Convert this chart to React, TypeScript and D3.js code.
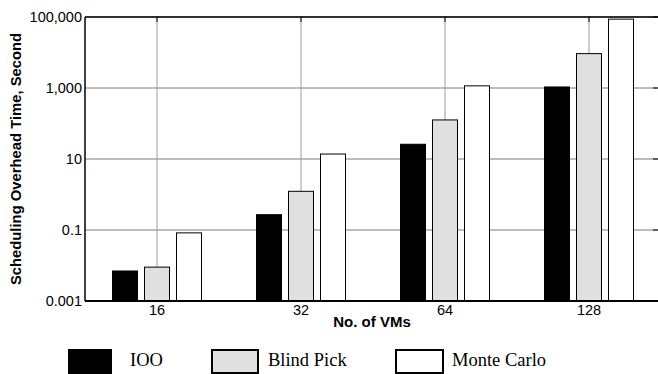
import React, { useEffect, useRef } from 'react';
import * as d3 from 'd3';

const categories = ['16', '32', '64', '128'];
const seriesNames = ['IOO', 'Blind Pick', 'Monte Carlo'];
const iooValues = [0.007, 0.27, 26, 1070];
const blindPickValues = [0.009, 1.23, 126, 9300];
const monteCarloValues = [0.083, 13.8, 1150, 87000];
const yTicks = [0.001, 0.1, 10, 1000, 100000];
const yTickLabels = ['0.001', '0.1', '10', '1,000', '100,000'];
const fills = ['#000000', '#e0e0e0', '#ffffff'];

const App = () => {
  const ref = useRef<SVGSVGElement>(null);

  useEffect(() => {
    const svg = d3.select(ref.current);
    svg.selectAll('*').remove();

    const left = 85, top = 17, bottom = 301, right = 661;
    const x = d3.scaleBand().domain(categories).range([left, right]);
    const y = d3.scaleLog().domain([0.001, 100000]).range([bottom, top]);
    const barW = 26, step = 32;
    const series = [iooValues, blindPickValues, monteCarloValues];
    const cx = (d: string) => x(d)! + x.bandwidth() / 2;

    // grid
    svg.append('g').selectAll('line').data(yTicks).enter().append('line')
      .attr('x1', left).attr('x2', right)
      .attr('y1', d => y(d)).attr('y2', d => y(d))
      .attr('stroke', '#7a7a7a').attr('stroke-width', 1);
    svg.append('g').selectAll('line').data(categories).enter().append('line')
      .attr('x1', cx).attr('x2', cx)
      .attr('y1', top).attr('y2', bottom)
      .attr('stroke', '#9a9a9a').attr('stroke-width', 1);
    // top ticks
    svg.append('g').selectAll('line').data(categories).enter().append('line')
      .attr('x1', cx).attr('x2', cx)
      .attr('y1', top).attr('y2', top + 5)
      .attr('stroke', '#000').attr('stroke-width', 1);
    // right ticks
    svg.append('g').selectAll('line').data(yTicks).enter().append('line')
      .attr('x1', 653).attr('x2', 658)
      .attr('y1', d => y(d)).attr('y2', d => y(d))
      .attr('stroke', '#000').attr('stroke-width', 1);

    // bars
    series.forEach((vals, si) => {
      svg.append('g').selectAll('rect').data(vals).enter().append('rect')
        .attr('x', (d, i) => cx(categories[i]) - barW / 2 + (si - 1) * step + 0.5)
        .attr('y', d => y(d))
        .attr('width', barW - 1)
        .attr('height', d => bottom - y(d))
        .attr('fill', fills[si])
        .attr('stroke', '#000').attr('stroke-width', 1);
    });

    // frame
    svg.append('line').attr('x1', left).attr('x2', right).attr('y1', top).attr('y2', top)
      .attr('stroke', '#000').attr('stroke-width', 1.5);
    svg.append('line').attr('x1', left).attr('x2', left).attr('y1', top).attr('y2', bottom)
      .attr('stroke', '#000').attr('stroke-width', 1.5);
    svg.append('line').attr('x1', left).attr('x2', right).attr('y1', bottom).attr('y2', bottom)
      .attr('stroke', '#000').attr('stroke-width', 2);

    const font = "'Liberation Sans', Arial, Helvetica, sans-serif";
    svg.append('g').selectAll('text').data(yTicks).enter().append('text')
      .attr('x', 82).attr('y', d => y(d) + 5)
      .attr('text-anchor', 'end').attr('font-family', font).attr('font-size', 14.5)
      .text((d, i) => yTickLabels[i]);
    svg.append('g').selectAll('text').data(categories).enter().append('text')
      .attr('x', cx).attr('y', 315)
      .attr('text-anchor', 'middle').attr('font-family', font).attr('font-size', 14.5)
      .text(d => d);
    svg.append('text')
      .attr('x', 372).attr('y', 327)
      .attr('text-anchor', 'middle').attr('font-family', font).attr('font-size', 15)
      .attr('font-weight', 'bold').text('No. of VMs');
    svg.append('text')
      .attr('transform', 'translate(21,159) rotate(-90)')
      .attr('text-anchor', 'middle').attr('font-family', font).attr('font-size', 14.8)
      .attr('font-weight', 'bold').text('Scheduling Overhead Time, Second');

    // legend
    const legX = [69, 212, 396];
    const legW = [42, 46, 47];
    const legTextX = [130, 268, 452];
    seriesNames.forEach((name, i) => {
      svg.append('rect')
        .attr('x', legX[i]).attr('y', 350).attr('width', legW[i]).attr('height', 23)
        .attr('fill', fills[i]).attr('stroke', '#000').attr('stroke-width', 2);
      svg.append('text')
        .attr('x', legTextX[i]).attr('y', 366)
        .attr('font-family', "'Liberation Serif', 'Times New Roman', serif").attr('font-size', 18.5)
        .text(name);
    });
  }, []);

  return (
    <svg ref={ref} width={658} height={374}
      style={{ position: 'absolute', left: 0, top: 0, background: '#fff' }} />
  );
};

export default App;
